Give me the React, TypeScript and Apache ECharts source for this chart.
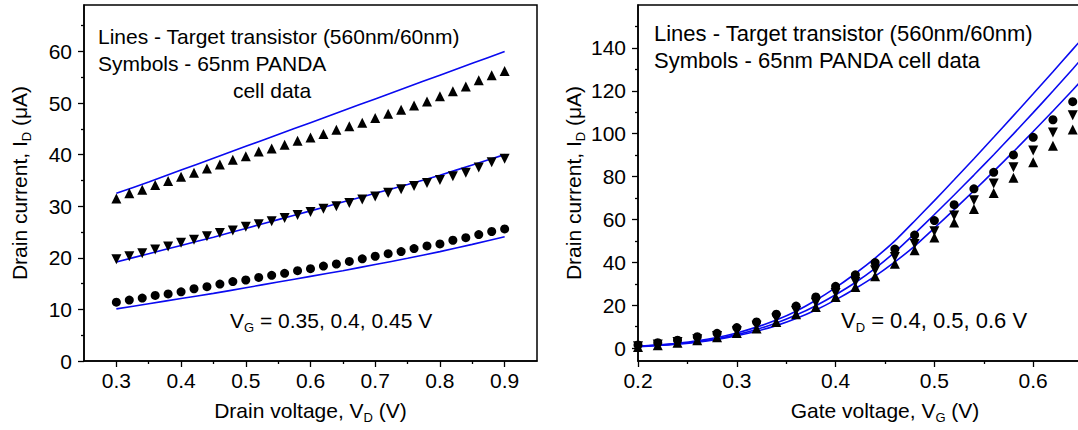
import React, { useEffect, useRef } from "react";
import * as echarts from "echarts";

// ---- Output characteristics: I_D vs V_D for V_G = 0.35, 0.4, 0.45 V ----
const drainV = [
  0.3, 0.32, 0.34, 0.36, 0.38, 0.4, 0.42, 0.44, 0.46, 0.48, 0.5, 0.52, 0.54, 0.56, 0.58, 0.6,
  0.62, 0.64, 0.66, 0.68, 0.7, 0.72, 0.74, 0.76, 0.78, 0.8, 0.82, 0.84, 0.86, 0.88, 0.9,
];
const cellVg045 = [
  31.5, 32.5, 33.2, 34.1, 34.9, 35.7, 36.5, 37.3, 38.1, 39.0, 39.7, 40.6, 41.2, 41.9, 42.7, 43.3,
  44.0, 44.8, 45.5, 46.2, 47.1, 47.9, 48.7, 49.5, 50.3, 51.3, 52.3, 53.2, 54.4, 55.4, 56.2,
];
const cellVg040 = [
  19.7, 20.3, 20.9, 21.6, 22.2, 22.9, 23.5, 24.2, 24.8, 25.3, 26.0, 26.5, 27.1, 27.7, 28.3, 28.9,
  29.5, 30.0, 30.6, 31.3, 31.9, 32.6, 33.3, 33.9, 34.5, 35.1, 35.8, 36.5, 37.5, 38.5, 39.2,
];
const cellVg035 = [
  11.4, 11.8, 12.2, 12.7, 13.0, 13.4, 14.0, 14.4, 14.9, 15.4, 15.7, 16.2, 16.6, 17.0, 17.5, 17.9,
  18.4, 18.8, 19.3, 19.8, 20.3, 20.8, 21.2, 21.8, 22.3, 22.7, 23.4, 23.9, 24.5, 25.1, 25.6,
];
const targetDrainV = [0.3, 0.35, 0.4, 0.45, 0.5, 0.55, 0.6, 0.65, 0.7, 0.75, 0.8, 0.85, 0.9];
const targetVg045 = [32.5, 34.7, 37.0, 39.3, 41.6, 43.9, 46.2, 48.5, 50.8, 53.1, 55.4, 57.7, 60.0];
const targetVg040 = [19.2, 20.8, 22.4, 24.0, 25.7, 27.4, 29.1, 30.8, 32.5, 34.2, 36.0, 38.0, 40.0];
const targetVg035 = [10.1, 11.1, 12.1, 13.1, 14.2, 15.3, 16.4, 17.5, 18.7, 19.9, 21.2, 22.6, 24.1];

// ---- Transfer characteristics: I_D vs V_G for V_D = 0.4, 0.5, 0.6 V ----
const gateV = [
  0.2, 0.22, 0.24, 0.26, 0.28, 0.3, 0.32, 0.34, 0.36, 0.38, 0.4, 0.42, 0.44, 0.46, 0.48, 0.5,
  0.52, 0.54, 0.56, 0.58, 0.6, 0.62, 0.64,
];
const cellVd06 = [
  1.5, 2.5, 3.7, 5.3, 6.9, 9.6, 12.2, 15.8, 19.6, 23.9, 28.8, 34.2, 39.9, 46.2, 52.7, 59.5,
  66.9, 74.3, 82.0, 90.1, 98.3, 106.5, 114.9,
];
const cellVd05 = [
  0.9, 1.7, 2.9, 4.2, 5.7, 7.9, 10.4, 13.8, 17.3, 21.2, 25.7, 30.8, 36.3, 42.5, 48.5, 54.5,
  61.8, 69.0, 76.8, 84.3, 92.1, 100.5, 108.6,
];
const cellVd04 = [
  0.5, 1.4, 2.5, 3.7, 5.1, 7.1, 9.1, 12.2, 15.8, 19.2, 23.9, 28.5, 33.5, 39.4, 45.6, 51.6,
  58.6, 64.9, 72.3, 79.5, 86.7, 94.4, 102.0,
];
const targetGateV = [
  0.2, 0.22, 0.24, 0.26, 0.28, 0.3, 0.32, 0.34, 0.36, 0.38, 0.4, 0.42, 0.44, 0.46, 0.48, 0.5,
  0.52, 0.54, 0.56, 0.58, 0.6, 0.62, 0.64, 0.66,
];
const targetVd06 = [
  0.9, 1.5, 2.3, 3.4, 5.0, 7.1, 9.8, 13.1, 17.2, 22.3, 28.2, 34.8, 42.0, 50.0, 59.3, 68.8,
  78.5, 88.3, 98.3, 108.4, 118.6, 128.9, 139.3, 149.8,
];
const targetVd05 = [
  0.8, 1.3, 2.0, 3.0, 4.4, 6.3, 8.7, 11.7, 15.4, 19.8, 24.9, 30.6, 37.2, 44.8, 53.4, 62.3,
  71.4, 80.7, 90.2, 99.9, 109.8, 119.9, 130.2, 140.7,
];
const targetVd04 = [
  0.7, 1.2, 1.9, 2.8, 4.1, 5.8, 7.9, 10.5, 13.8, 17.8, 22.5, 27.8, 33.6, 40.2, 47.6, 56.0,
  64.6, 73.4, 82.4, 91.6, 101.0, 110.6, 120.4, 130.4,
];

// ---- Tick positions and labels ----
const leftXMajor = [0.3, 0.4, 0.5, 0.6, 0.7, 0.8, 0.9];
const leftXMinor = [0.35, 0.45, 0.55, 0.65, 0.75, 0.85];
const leftYMajor = [0, 10, 20, 30, 40, 50, 60];
const leftYMinor = [5, 15, 25, 35, 45, 55, 65];
const rightXMajor = [0.2, 0.3, 0.4, 0.5, 0.6, 0.7];
const rightXLabels = [0.2, 0.3, 0.4, 0.5, 0.6];
const rightXMinor = [0.25, 0.35, 0.45, 0.55, 0.65];
const rightYMajor = [0, 20, 40, 60, 80, 100, 120, 140];
const rightYMinor = [10, 30, 50, 70, 90, 110, 130, 150];

const FONT = "'Liberation Sans', Arial, sans-serif";
const FS = 21;
const FS_NOTE_RIGHT = 22;
const SUB = 13;
const BLUE = "#0a0af0";

const pairs = (xs: number[], ys: number[]) => xs.map((x, i) => [x, ys[i]]);

const richStyles = {
  t: { fontSize: FS, fontFamily: FONT, color: "#000", lineHeight: 27, verticalAlign: "middle" },
  s: { fontSize: SUB, fontFamily: FONT, color: "#000", lineHeight: SUB, verticalAlign: "bottom" },
};

function majorAxis(
  dim: "x" | "y",
  gridIndex: number,
  min: number,
  max: number,
  ticks: number[],
  labels: number[],
  digits: number,
  name: string,
  nameGap: number
) {
  return {
    type: "value",
    gridIndex,
    min,
    max,
    position: dim === "x" ? "bottom" : "left",
    name,
    nameLocation: "middle",
    nameGap,
    nameTextStyle: { fontFamily: FONT, fontSize: FS, color: "#000", rich: richStyles },
    axisLine: { show: true, onZero: false, lineStyle: { color: "#000", width: 1.5 } },
    axisTick: { show: true, inside: false, length: 6, customValues: ticks, lineStyle: { color: "#000", width: 1.3 } },
    axisLabel: {
      show: true,
      customValues: labels,
      margin: dim === "x" ? 9 : 12,
      fontFamily: FONT,
      fontSize: FS,
      color: "#000",
      formatter: (v: number) => v.toFixed(digits),
    },
    splitLine: { show: false },
  };
}

function minorAxis(dim: "x" | "y", gridIndex: number, min: number, max: number, ticks: number[]) {
  return {
    type: "value",
    gridIndex,
    min,
    max,
    position: dim === "x" ? "bottom" : "left",
    axisLine: { show: false, onZero: false },
    axisTick: { show: true, inside: false, length: 3, customValues: ticks, lineStyle: { color: "#000", width: 1.3 } },
    axisLabel: { show: false },
    splitLine: { show: false },
  };
}

function lineSeries(xi: number, yi: number, xs: number[], ys: number[]) {
  return {
    type: "line",
    xAxisIndex: xi,
    yAxisIndex: yi,
    data: pairs(xs, ys),
    showSymbol: false,
    symbol: "none",
    smooth: 0.2,
    lineStyle: { color: BLUE, width: 1.6 },
    z: 3,
  };
}

function markerSeries(xi: number, yi: number, xs: number[], ys: number[], symbol: string, size: number, rotate = 0) {
  return {
    type: "scatter",
    xAxisIndex: xi,
    yAxisIndex: yi,
    data: pairs(xs, ys),
    symbol,
    symbolSize: size,
    symbolRotate: rotate,
    itemStyle: { color: "#000", opacity: 1 },
    z: 4,
  };
}

function textBlock(x: number, y: number, text: string, size = FS, align = "left") {
  return {
    type: "text",
    x,
    y,
    style: {
      text,
      fontFamily: FONT,
      fontSize: size,
      fill: "#000",
      align,
      verticalAlign: "middle",
      rich: {
        t: { fontSize: size, fontFamily: FONT, fill: "#000", lineHeight: 27, verticalAlign: "middle" },
        s: { fontSize: SUB, fontFamily: FONT, fill: "#000", lineHeight: SUB, verticalAlign: "bottom" },
      },
    },
    z: 10,
  };
}

export default function App() {
  const ref = useRef<HTMLDivElement>(null);

  useEffect(() => {
    document.body.style.margin = "0";
    document.body.style.overflow = "hidden";
    if (!ref.current) return;
    const chart = echarts.init(ref.current, null, { renderer: "svg" });

    const gridStyle = {
      show: true,
      borderColor: "#000",
      borderWidth: 1.5,
      backgroundColor: "transparent",
      containLabel: false,
      outerBoundsMode: "none",
    };

    chart.setOption({
      animation: false,
      backgroundColor: "#fff",
      grid: [
        { left: 84, top: 5, width: 453, height: 356, ...gridStyle },
        { left: 638, top: 5, width: 494, height: 356, ...gridStyle },
      ],
      xAxis: [
        majorAxis("x", 0, 0.25, 0.95, leftXMajor, leftXMajor, 1, "{t|Drain voltage, V}{s|D}{t| (V)}", 36),
        minorAxis("x", 0, 0.25, 0.95, leftXMinor),
        majorAxis("x", 1, 0.2, 0.7, rightXMajor, rightXLabels, 1, "{t|Gate voltage, V}{s|G}{t| (V)}", 36),
        minorAxis("x", 1, 0.2, 0.7, rightXMinor),
      ],
      yAxis: [
        majorAxis("y", 0, 0, 69, leftYMajor, leftYMajor, 0, "{t|Drain current, I}{s|D}{t| (μA)}", 51),
        minorAxis("y", 0, 0, 69, leftYMinor),
        majorAxis("y", 1, -6, 160, rightYMajor, rightYMajor, 0, "{t|Drain current, I}{s|D}{t| (μA)}", 50),
        minorAxis("y", 1, -6, 160, rightYMinor),
      ],
      series: [
        lineSeries(0, 0, targetDrainV, targetVg045),
        lineSeries(0, 0, targetDrainV, targetVg040),
        lineSeries(0, 0, targetDrainV, targetVg035),
        markerSeries(0, 0, drainV, cellVg045, "triangle", 10),
        markerSeries(0, 0, drainV, cellVg040, "triangle", 10, 180),
        markerSeries(0, 0, drainV, cellVg035, "circle", 9),
        lineSeries(2, 2, targetGateV, targetVd06),
        lineSeries(2, 2, targetGateV, targetVd05),
        lineSeries(2, 2, targetGateV, targetVd04),
        markerSeries(2, 2, gateV, cellVd06, "circle", 9),
        markerSeries(2, 2, gateV, cellVd05, "triangle", 10, 180),
        markerSeries(2, 2, gateV, cellVd04, "triangle", 10),
      ],
      graphic: [
        textBlock(98, 36, "Lines - Target transistor (560nm/60nm)"),
        textBlock(98, 63, "Symbols - 65nm PANDA"),
        textBlock(272, 90, "cell data", FS, "center"),
        textBlock(230, 320, "{t|V}{s|G}{t| = 0.35, 0.4, 0.45 V}"),
        textBlock(654, 33, "Lines - Target transistor (560nm/60nm)", FS_NOTE_RIGHT),
        textBlock(654, 60, "Symbols - 65nm PANDA cell data", FS_NOTE_RIGHT),
        textBlock(841, 320, "{t|V}{s|D}{t| = 0.4, 0.5, 0.6 V}", FS_NOTE_RIGHT),
      ],
    });

    return () => chart.dispose();
  }, []);

  return <div ref={ref} style={{ width: 1078, height: 430 }} />;
}
